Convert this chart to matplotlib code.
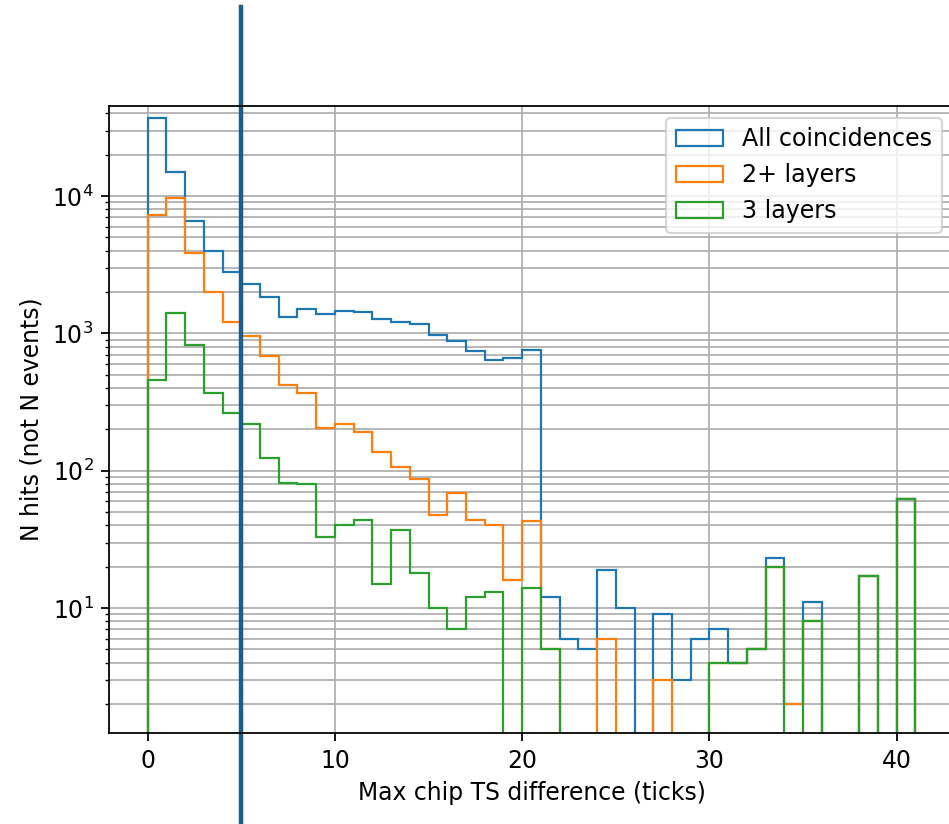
import matplotlib
matplotlib.use("Agg")
import matplotlib.pyplot as plt
import numpy as np

# bin edges of max chip TS difference (ticks)
bin_edges = list(range(0, 42))

# counts per bin
all_coincidences = [37000, 15100, 6630, 4000, 2810, 2280, 1850, 1310, 1500, 1380,
                    1460, 1430, 1270, 1210, 1170, 978, 885, 740, 640, 659,
                    757, 12, 6, 5, 19, 10, 0, 9, 3, 6,
                    7, 4, 5, 23, 2, 11, 0, 0, 17, 0,
                    62]
two_plus_layers = [7250, 9760, 3870, 1990, 1215, 957, 684, 421, 370, 204,
                   218, 193, 137, 106, 87, 48, 69, 44, 40, 16,
                   43, 5, 0, 0, 6, 0, 0, 3, 0, 0,
                   4, 4, 5, 20, 2, 8, 0, 0, 17, 0,
                   62]
three_layers = [457, 1400, 822, 368, 263, 219, 124, 81, 80, 33,
                40, 44, 15, 37, 18, 10, 7, 12, 13, 0,
                14, 5, 0, 0, 0, 0, 0, 0, 0, 0,
                4, 4, 5, 20, 0, 8, 0, 0, 17, 0,
                62]
labels = ["All coincidences", "2+ layers", "3 layers"]
cut_value = 5

plt.rcParams['font.size'] = 10.6

dpi = 160
fig = plt.figure(figsize=(949 / dpi, 824 / dpi), dpi=dpi)
ax = fig.add_axes([0.1152, 0.1104, 0.8898, 0.7609])

centers = np.array(bin_edges[:-1]) + 0.5
for counts, label in zip([all_coincidences, two_plus_layers, three_layers], labels):
    ax.hist(centers, bins=bin_edges, weights=counts, histtype='step', log=True, label=label)

ax.set_ylim(1.23, 45300)
ax.set_xlabel("Max chip TS difference (ticks)")
ax.set_ylabel("N hits (not N events)")
ax.grid(True, which='both')
ax.legend(loc='upper right', fontsize=10.7)

# cut line, runs past the axes
ax.axvline(cut_value, ymin=-0.15, ymax=1.158, color='#1b5e89', linewidth=2, clip_on=False)

fig.savefig("out.png", dpi=dpi)
